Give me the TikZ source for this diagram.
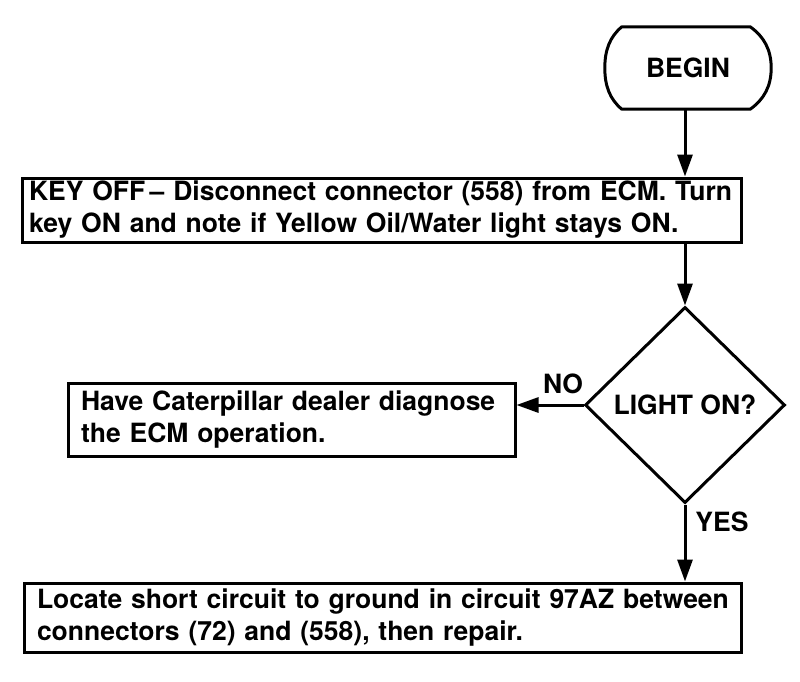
\documentclass[tikz,border=0pt]{standalone}
\usepackage{fontspec}
\setmainfont{TeX Gyre Heros}
\usetikzlibrary{shapes.geometric,arrows.meta}
\begin{document}
\begin{tikzpicture}[x=1pt,y=-1pt,
  txt/.style={font=\bfseries\fontsize{26.5}{32}\selectfont},
  box/.style={txt, draw, line width=3pt, rectangle, inner ysep=0pt, align=left},
  dec/.style={txt, draw, line width=3pt, diamond, inner sep=0pt, minimum width=200pt, minimum height=196pt},
  arr/.style={line width=3pt, -{Triangle[length=22pt,width=15pt]}},
  lab/.style={txt, inner sep=0pt}]
\useasboundingbox (0,0) rectangle (800,681);
% BEGIN terminal
\node[txt, minimum width=166pt, minimum height=82pt, inner sep=0pt] (begin) at (688,68) {BEGIN};
\draw[line width=3pt, line join=round]
  (begin.north west) ++(17,0) coordinate (btl)
  (begin.north east) ++(-21,0) coordinate (btr)
  (begin.south west) ++(17,0) coordinate (bbl)
  (begin.south east) ++(-21,0) coordinate (bbr)
  (btl) -- (btr) .. controls ++(14,10) and ++(0,-18) .. (begin.east)
  .. controls ++(0,18) and ++(14,-10) .. (bbr) -- (bbl)
  .. controls ++(-12,-10) and ++(0,18) .. (begin.west)
  .. controls ++(0,-18) and ++(-12,10) .. (btl) -- cycle;
% boxes
\node[box, text width=705pt, inner xsep=7pt, minimum height=64pt] (b1) at (381.5,210)
  {\mbox{KEY OFF\,-- Disconnect connector (558) from ECM. Turn}\\\mbox{key ON and note if Yellow Oil/Water light stays ON.}};
\node[dec] (d) at (685,405) {LIGHT ON?};
\node[box, text width=421pt, inner xsep=13pt, minimum height=73pt] (b2) at (291.5,419.5)
  {\mbox{Have Caterpillar dealer diagnose}\\\mbox{the ECM operation.}};
\node[box, text width=691pt, inner xsep=13pt, minimum height=69pt] (b3) at (382.5,617.5)
  {\mbox{Locate short circuit to ground in circuit 97AZ between}\\\mbox{connectors (72) and (558), then repair.}};
% connectors
\draw[arr] (begin.south -| d.north) -- (d.north |- b1.north);
\draw[arr] (d.north |- b1.south) -- (d.north);
\draw[arr] (d.west) -- (b2.east |- d.west);
\draw[arr] (d.south) -- (d.south |- b3.north);
% labels
\node[lab] (no) at (563,384) {NO};
\node[lab] (yes) at (722,522) {YES};
\end{tikzpicture}
\end{document}
